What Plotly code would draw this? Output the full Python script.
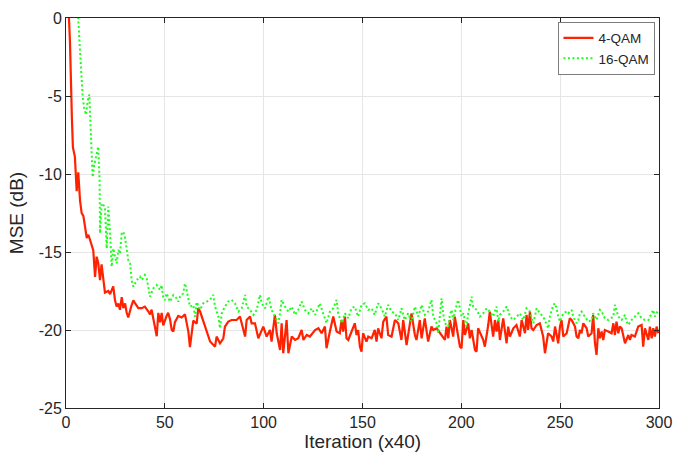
import plotly.graph_objects as go

# ---- data ----
x_4qam = [1, 2, 3, 3.5, 4.5, 5.4, 6.2, 7.1, 7.9, 8.8, 10.5, 11.3, 12.1, 13.8, 14.7, 15.5, 16.3, 17.2, 18,
          19.7, 21.4, 22.3, 23.9, 24.8, 25.6, 26.5, 27.3, 28.2, 29, 29.9, 30.7, 31.5, 33.2, 34.1, 35, 36.6,
          38.3, 39.9, 41.6, 42.5, 43.3, 45, 45.9, 46.7, 47.6, 48.4, 49.2, 50.9, 51.7, 52.6, 53.5, 54.3, 55.1,
          56.8, 58.5, 60.2, 61.9, 62.7, 64.4, 66.1, 66.9, 67.8, 69.4,
          71.2, 72.9, 75.4, 76.2, 77.9, 79.6, 80.4, 82.1, 83.8, 86.3, 88.0, 88.9, 90.6, 91.4, 93.1, 93.9,
          95.6, 97.3, 98.1, 99.8, 101.5, 103.2, 104.0, 105.7, 106.6, 108.3, 109.1, 109.9, 111.6, 112.5,
          114.2, 115.9, 117.5, 119.2, 120.1, 121.8, 123.4, 126.0, 127.7,
          129.3, 131.0, 131.8, 133.5, 135.2, 136.9, 138.5, 139.4, 140.2, 141.1, 141.9, 142.8, 144.4, 145.3,
          146.1, 147.0, 147.8, 148.7, 149.5, 150.3, 152.0, 152.9, 154.6, 156.2, 157.1, 157.9, 159.6, 160.5,
          162.1, 163.0, 164.7, 166.4, 168.1, 169.7, 170.6, 172.3, 174.0, 174.8, 176.5, 177.3, 179.0, 179.9,
          181.5, 183.2, 184.9, 185.8,
          187.5, 189.2, 190.8, 191.7, 192.5, 193.4, 194.2, 195.9, 196.7, 197.6, 199.3, 200.1, 201.0, 201.8,
          203.5, 204.3, 205.2, 206.9, 207.7, 208.5, 210.2, 211.1, 211.9, 212.8, 213.6, 214.4, 216.1, 217.0,
          217.8, 218.7, 219.5, 221.2, 222.9, 223.7, 224.6, 226.3, 227.9, 229.6, 230.5, 232.2, 233.0, 233.8,
          234.7, 235.5, 236.4, 238.1, 239.7, 241.4, 242.3, 243.9,
          245.7, 246.5, 247.4, 249.0, 249.9, 250.7, 251.6, 253.3, 254.9, 255.8, 257.5, 258.3, 259.2, 260.0,
          260.8, 261.7, 263.4, 264.2, 265.9, 266.7, 267.6, 268.4, 269.3, 270.1, 271.0, 271.8, 272.6, 274.3,
          276.0, 276.9, 277.7, 278.5, 279.4, 280.2, 281.1, 282.8, 284.5, 285.3, 286.1, 287.8, 289.5, 291.2,
          292.0, 292.9, 294.6, 295.4, 296.3, 297.1, 297.9, 298.8, 299.6]
mse_4qam = [1.5, -1.5, -6.5, -8.3, -8.9, -11.1, -9.9, -11.7, -12.5, -12.7, -14.1, -13.9, -14.2, -14.9, -16.6,
            -15.3, -15.7, -16.8, -15.8, -17.6, -17.5, -17.7, -17.2, -18.1, -18.5, -18.3, -18.7, -17.9, -18.6,
            -18.3, -18.9, -19.2, -18.4, -18.1, -18.3, -18.6, -18.6, -18.5, -18.8, -19.0, -18.7, -19.9, -20.4,
            -18.9, -19.5, -18.9, -19.7, -19.1, -18.9, -19.3, -20.0, -20.1, -19.5, -19.1, -19.2, -19.0, -20.1,
            -21.1, -19.4, -19.6, -18.6, -18.8, -19.4,
            -20.21, -20.74, -21.07, -20.42, -20.85, -20.53, -19.78, -19.46, -19.36, -19.36, -19.14, -19.57,
            -20.42, -19.36, -19.14, -19.57, -19.57, -20.53, -20.32, -19.78, -20.42, -20.0, -20.74, -19.03,
            -20.21, -21.28, -19.57, -21.49, -19.36, -21.49, -20.42, -20.64, -20.53, -20.0, -20.64, -20.32,
            -20.42, -20.0, -19.89,
            -20.21, -19.78, -21.17, -20.1, -19.14, -20.1, -20.21, -19.36, -20.1, -19.14, -20.53, -20.64,
            -20.1, -19.78, -19.57, -20.32, -20.0, -21.07, -21.39, -20.21, -20.74, -20.42, -20.53, -20.0,
            -20.74, -19.89, -20.53, -19.46, -19.14, -20.32, -20.42, -19.36, -19.57, -20.64, -19.36, -20.96,
            -19.57, -18.93, -20.32, -20.64, -19.36, -20.53, -19.25, -20.74, -19.78, -20.0,
            -19.89, -20.21, -20.53, -20.64, -19.78, -20.53, -19.36, -20.42, -19.14, -19.78, -21.07, -21.17,
            -19.36, -20.32, -19.57, -20.53, -20.0, -21.28, -21.39, -19.89, -20.32, -20.64, -21.07, -20.42,
            -19.68, -18.82, -20.42, -19.36, -20.1, -19.36, -20.64, -19.25, -20.85, -19.78, -20.42, -19.89,
            -19.68, -20.42, -19.36, -20.21, -19.03, -20.0, -18.82, -19.89, -20.0, -19.68, -19.57, -20.42,
            -21.49, -20.21,
            -20.42, -20.74, -19.78, -20.85, -19.78, -19.36, -20.42, -20.21, -19.25, -19.36, -19.78, -20.42,
            -20.53, -20.0, -20.21, -19.57, -19.89, -20.42, -20.21, -19.03, -20.85, -21.6, -19.89, -20.53,
            -20.1, -20.64, -20.0, -20.1, -20.21, -19.57, -20.32, -19.46, -20.21, -19.78, -19.89, -20.85,
            -20.32, -20.64, -20.32, -20.42, -19.78, -19.68, -21.07, -19.89, -20.64, -19.78, -20.53, -19.89,
            -20.42, -19.78, -20.21]

x_16qam = [5.5, 6.3, 7.4, 8.4, 9.2, 10.1, 11.0, 11.8, 12.6, 13.5, 14.3, 15.2, 16.3, 17.0, 17.2, 18.0, 19.7,
           20.6, 21.4, 22.3, 23.1, 23.9, 24.8, 25.6, 26.5, 27.3, 28.2, 29.0, 29.9, 30.7, 31.5, 32.4, 33.2,
           34.1, 35.8, 37.4, 38.3, 39.9, 40.8, 41.6, 42.5, 44.2, 45.9, 47.6, 48.4, 49.2, 50.1, 50.9, 52.6,
           54.3, 56.0, 56.8, 57.7, 59.3, 60.2, 61.0, 62.7, 64.4, 65.3, 66.1,
           67.8, 69.5, 71.2, 72.9, 74.5, 75.4, 77.1, 77.9, 78.8, 80.4, 82.1, 83.8, 85.5, 87.2, 88.9, 90.6,
           91.4, 93.1, 94.8, 96.5, 98.1, 99.0, 100.7, 102.4, 104.0, 105.7, 107.4, 108.3, 109.1, 110.8, 112.5,
           114.2, 115.9, 117.5, 119.2, 120.9, 122.6, 124.3, 126.0, 127.7,
           128.4, 130.1, 131.8, 133.5, 135.2, 136.9, 137.7, 139.4, 141.1, 142.8, 144.4, 146.1, 147.8, 149.5,
           151.2, 152.9, 154.6, 156.2, 157.9, 159.6, 161.3, 163.0, 164.7, 166.4, 168.1, 169.7, 171.4, 173.1,
           174.8, 176.5, 178.2, 179.9, 181.5, 183.2, 184.9, 185.8,
           186.6, 187.5, 188.3, 190.0, 190.8, 191.7, 193.4, 194.2, 195.1, 195.9, 197.6, 198.4, 200.1, 201.0,
           202.6, 203.5, 205.2, 206.0, 207.7, 209.4, 211.1, 212.8, 214.4, 216.1, 217.8, 218.7, 219.5, 221.2,
           222.9, 224.6, 226.3, 227.9, 229.6, 231.3, 233.0, 234.7, 236.4, 238.1, 239.7, 241.4, 243.1,
           244.0, 244.8, 246.5, 247.4, 248.2, 249.0, 249.9, 251.6, 253.3, 254.1, 255.8, 256.6, 258.3, 259.2,
           260.0, 260.8, 262.5, 264.2, 265.9, 266.7, 268.4, 270.1, 271.0, 272.6, 274.3, 276.0, 276.9, 277.7,
           278.5, 279.4, 281.1, 282.8, 283.6, 284.5, 286.1, 287.8, 289.5, 291.2, 292.9, 294.6, 296.3, 297.1,
           297.9, 299.6]
mse_16qam = [1.5, -0.5, -3.0, -5.0, -5.8, -6.2, -5.3, -4.9, -7.5, -10.2, -9.4, -8.8, -8.25, -10.4, -13.8,
             -11.88, -12.09, -14.77, -12.09, -13.8, -15.94, -14.77, -15.41, -15.73, -14.87, -15.09, -13.8,
             -13.7, -14.12, -14.98, -15.51, -15.73, -16.8, -17.22, -16.8, -16.58, -16.8, -16.48, -16.69,
             -17.22, -17.86, -17.33, -17.12, -17.44, -17.12, -17.97, -18.08, -17.65, -18.18, -17.76, -17.97,
             -18.18, -17.86, -17.65, -17.01, -17.44, -18.5, -18.4, -19.15, -18.2,
             -18.71, -18.29, -18.18, -18.07, -17.75, -18.5, -19.14, -19.89, -18.93, -18.5, -18.18, -18.07,
             -18.29, -18.82, -18.61, -17.75, -18.5, -18.71, -19.03, -18.71, -17.75, -18.29, -18.61, -17.86,
             -18.71, -19.14, -19.57, -18.93, -18.07, -18.5, -18.82, -18.5, -19.03, -18.71, -18.18, -18.71,
             -18.93, -18.61, -19.03, -18.5,
             -18.29, -18.93, -19.57, -18.82, -18.61, -18.07, -18.93, -19.57, -18.93, -19.25, -18.61, -18.5,
             -19.14, -18.39, -18.29, -18.71, -18.61, -19.03, -18.29, -18.61, -19.14, -18.39, -18.82, -18.93,
             -19.36, -18.61, -19.36, -18.93, -19.46, -18.5, -19.14, -18.39, -19.03, -18.82, -18.07, -19.14,
             -19.36, -19.57, -20.21, -17.97, -18.93, -19.57, -19.78, -19.03, -18.71, -19.36, -18.39, -18.07,
             -19.14, -18.93, -19.78, -18.93, -17.86, -18.5, -18.71, -19.14, -18.93, -18.61, -18.82, -19.14,
             -18.5, -19.46, -19.03, -18.82, -18.5, -19.14, -19.36, -19.14, -18.93, -19.36, -18.61, -18.82,
             -19.57, -18.61, -18.93, -19.14, -19.68,
             -19.89, -19.14, -18.39, -18.29, -18.61, -19.14, -19.46, -18.93, -18.82, -18.93, -18.71, -19.14,
             -19.57, -19.36, -18.93, -18.82, -19.14, -19.46, -19.36, -18.93, -19.36, -18.71, -18.82, -19.25,
             -19.36, -19.25, -19.14, -18.39, -18.82, -19.14, -19.36, -19.03, -19.46, -19.68, -19.36, -19.14,
             -18.93, -19.25, -19.36, -19.36, -18.93, -18.71, -19.14, -18.71]

x_ticks = [0, 50, 100, 150, 200, 250, 300]
x_tick_labels = ["0", "50", "100", "150", "200", "250", "300"]
y_ticks = [0, -5, -10, -15, -20, -25]
y_tick_labels = ["0", "-5", "-10", "-15", "-20", "-25"]

FONT = "Liberation Sans, Arial, Helvetica, sans-serif"

fig = go.Figure()
fig.add_trace(go.Scatter(x=x_4qam, y=mse_4qam, mode="lines", name="4-QAM",
                         line=dict(color="#ff2200", width=2.2)))
fig.add_trace(go.Scatter(x=x_16qam, y=mse_16qam, mode="lines", name="16-QAM",
                         line=dict(color="#1aff1a", width=2, dash="2px,2.5px")))

axis_common = dict(
    showgrid=True, gridcolor="#e6e6e6", gridwidth=1,
    showline=True, linecolor="#262626", linewidth=1, mirror="allticks",
    ticks="inside", ticklen=5, tickcolor="#262626",
    tickfont=dict(family=FONT, size=16, color="#262626"),
    zeroline=False, automargin=False, ticklabeloverflow="allow",
)

fig.update_layout(
    width=674, height=457,
    margin=dict(l=66, r=15, t=18, b=49),
    paper_bgcolor="white", plot_bgcolor="white",
    showlegend=True,
    legend=dict(x=0.993, y=0.99, xanchor="right", yanchor="top",
                bgcolor="white", bordercolor="#262626", borderwidth=0.6,
                font=dict(family=FONT, size=13.5, color="#262626"),
                tracegroupgap=0, itemwidth=30),
    xaxis=dict(range=[0, 300], tickvals=x_ticks, ticktext=x_tick_labels,
               title=dict(text="Iteration (x40)", font=dict(family=FONT, size=19, color="#262626"),
                          standoff=2),
               **axis_common),
    yaxis=dict(range=[-25, 0], tickvals=y_ticks, ticktext=y_tick_labels,
               title=dict(text="MSE (dB)", font=dict(family=FONT, size=19, color="#262626"),
                          standoff=10),
               **axis_common),
)

# remove the default page margin so the 674x457 figure fills the window exactly
fig.write_html("out.html",
               config={"displayModeBar": False},
               post_script="document.body.style.margin='0';document.body.style.overflow='hidden';")
